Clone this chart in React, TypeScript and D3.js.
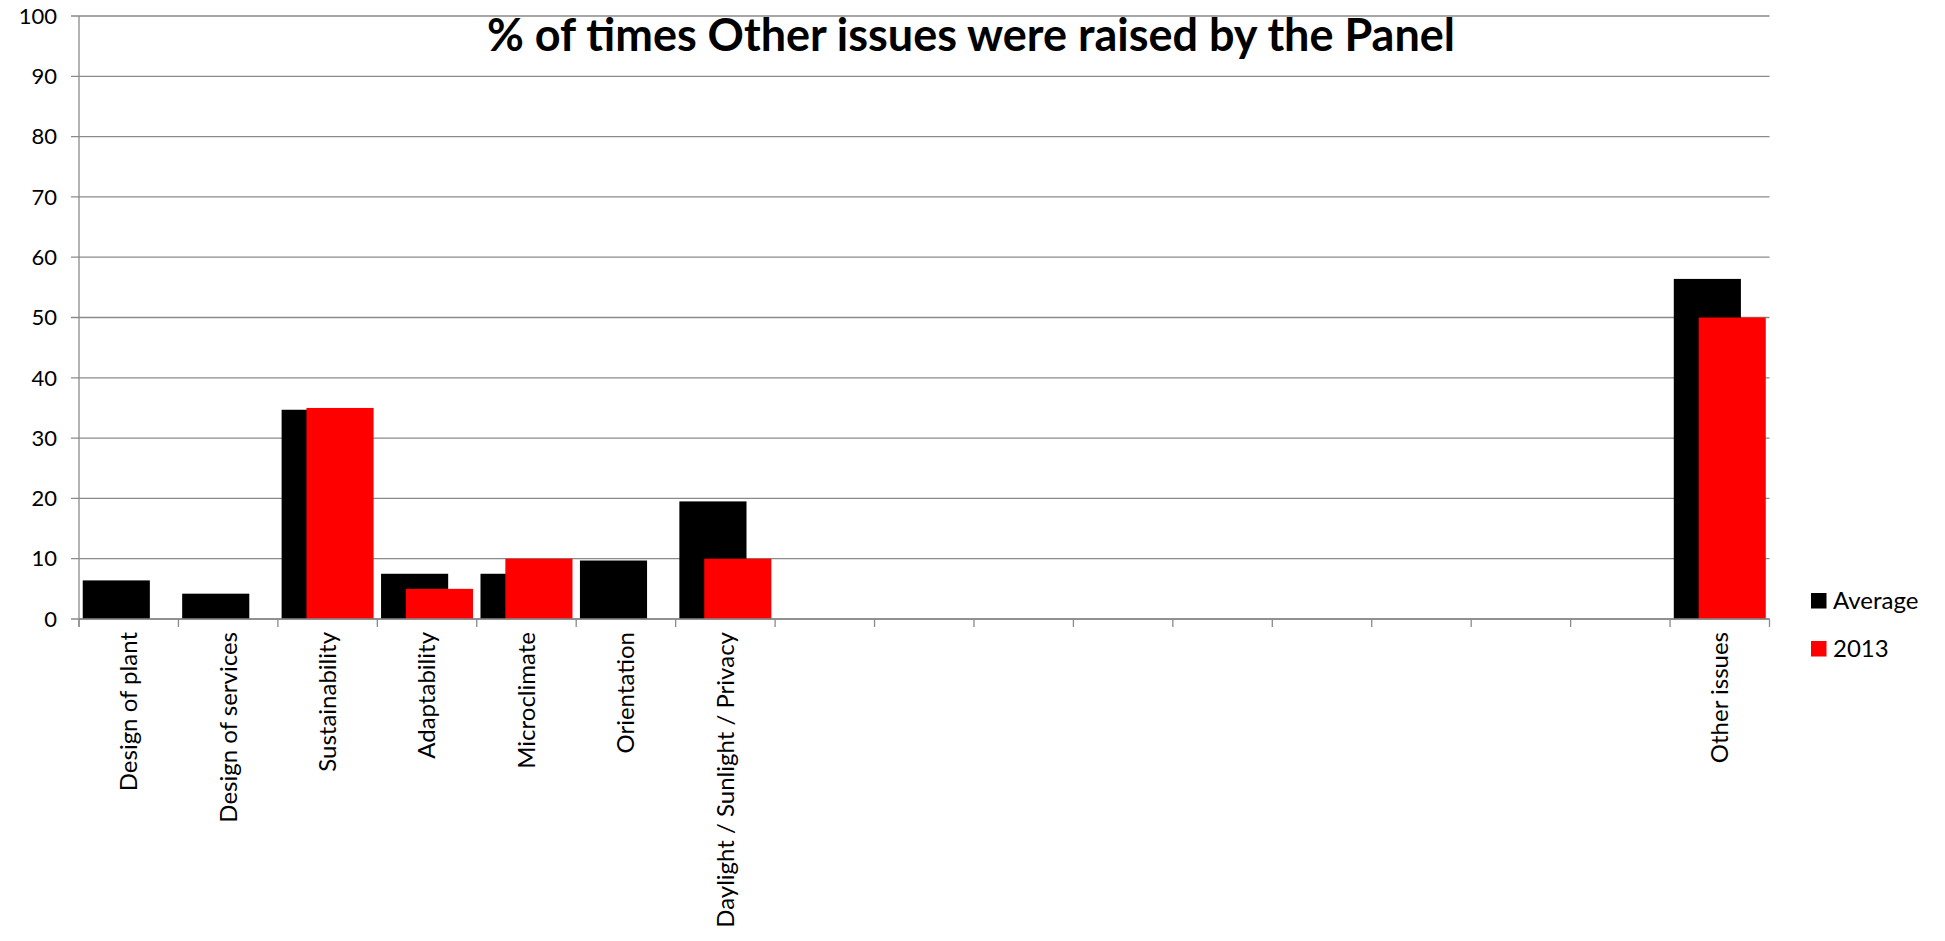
import React from "react";
import * as d3 from "d3";

const categories: string[] = [
  "Design of plant",
  "Design of services",
  "Sustainability",
  "Adaptability",
  "Microclimate",
  "Orientation",
  "Daylight / Sunlight / Privacy",
  "", "", "", "", "", "", "", "", "",
  "Other issues",
];

const averageValues: (number | null)[] = [
  6.4, 4.2, 34.7, 7.5, 7.5, 9.7, 19.5,
  null, null, null, null, null, null, null, null, null,
  56.4,
];

const values2013: (number | null)[] = [
  null, null, 35, 5, 10, null, 10,
  null, null, null, null, null, null, null, null, null,
  50,
];

const yTicks: number[] = [0, 10, 20, 30, 40, 50, 60, 70, 80, 90, 100];

const seriesNames: string[] = ["Average", "2013"];
const seriesColors: string[] = ["#000000", "#ff0000"];

const titleText = "% of times Other issues were raised by the Panel";

const W = 1945;
const H = 941;
const plotLeft = 79;
const plotRight = 1769.5;
const plotTop = 16;
const plotBottom = 619;

const FONT = "Lato, 'Open Sans', sans-serif";
const GRID = "#8a8a8a";

export default function App() {
  const x = d3
    .scaleBand<number>()
    .domain(categories.map((_, i) => i))
    .range([plotLeft, plotRight])
    .paddingInner(0)
    .paddingOuter(0);
  const y = d3.scaleLinear().domain([0, 100]).range([plotBottom, plotTop]);

  const bw = x.bandwidth();
  const barW = bw * 0.675;
  const offset = bw * 0.25;
  const margin = (bw - barW - offset) / 2;

  const series = [averageValues, values2013];

  const boundaries = d3.range(categories.length + 1).map((i) => plotLeft + i * bw);

  return (
    <svg
      width={W}
      height={H}
      style={{ position: "absolute", left: 0, top: 0, display: "block", background: "#fff" }}
    >
      {/* gridlines */}
      {yTicks.map((t) => (
        <line
          key={"g" + t}
          x1={plotLeft - 8}
          x2={plotRight}
          y1={y(t)}
          y2={y(t)}
          stroke={GRID}
          strokeWidth={1.3}
        />
      ))}
      {/* y axis */}
      <line x1={plotLeft} x2={plotLeft} y1={plotTop} y2={plotBottom + 8} stroke={GRID} strokeWidth={1.3} />
      {yTicks.map((t) => (
        <text
          key={"yl" + t}
          x={plotLeft - 22}
          y={y(t)}
          dy="0.35em"
          textAnchor="end"
          fontFamily={FONT}
          fontSize={22}
          fill="#000"
        >
          {t}
        </text>
      ))}
      {/* bars */}
      {series.map((vals, si) =>
        vals.map((v, i) =>
          v == null ? null : (
            <rect
              key={"b" + si + "-" + i}
              x={(x(i) as number) + margin + si * offset}
              y={y(v)}
              width={barW}
              height={y(0) - y(v)}
              fill={seriesColors[si]}
            />
          )
        )
      )}
      {/* x axis */}
      <line x1={plotLeft} x2={plotRight} y1={plotBottom} y2={plotBottom} stroke={GRID} strokeWidth={1.3} />
      {boundaries.map((bx, i) => (
        <line key={"xt" + i} x1={bx} x2={bx} y1={plotBottom} y2={plotBottom + 8} stroke={GRID} strokeWidth={1.3} />
      ))}
      {categories.map((c, i) =>
        c ? (
          <text
            key={"xl" + i}
            transform={`translate(${(x(i) as number) + bw / 2},${plotBottom + 13}) rotate(-90)`}
            dy="0.35em"
            textAnchor="end"
            fontFamily={FONT}
            fontSize={24}
            fill="#000"
          >
            {c}
          </text>
        ) : null
      )}
      {/* title */}
      <text
        x={971}
        y={51}
        textAnchor="middle"
        fontFamily={FONT}
        fontWeight="bold"
        fontSize={45}
        fill="#000"
      >
        {titleText}
      </text>
      {/* legend */}
      {seriesNames.map((s, i) => (
        <g key={"lg" + i} transform={`translate(1811,${593 + i * 48})`}>
          <rect x={0} y={0} width={15.5} height={15.5} fill={seriesColors[i]} />
          <text x={22} y={8} dy="0.35em" fontFamily={FONT} fontSize={24} fill="#000">
            {s}
          </text>
        </g>
      ))}
    </svg>
  );
}
